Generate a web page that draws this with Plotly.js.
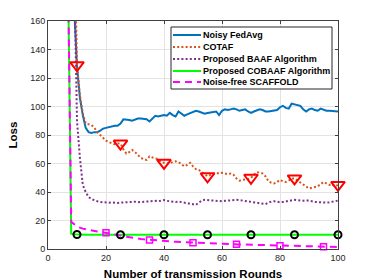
<!DOCTYPE html>
<html>
<head>
<meta charset="utf-8">
<script src="https://cdn.plot.ly/plotly-3.0.1.min.js"></script>
<style>html,body{margin:0;padding:0;background:#fff;}#chart{width:374px;height:280px;}</style>
</head>
<body>
<div id="chart"></div>
<script>
const rounds = [1,2,3,4,5,6,7,8,9,10,11,12,13,14,15,16,17,18,19,20,21,22,23,24,25,26,27,28,29,30,31,32,33,34,35,36,37,38,39,40,41,42,43,44,45,46,47,48,49,50,51,52,53,54,55,56,57,58,59,60,61,62,63,64,65,66,67,68,69,70,71,72,73,74,75,76,77,78,79,80,81,82,83,84,85,86,87,88,89,90,91,92,93,94,95,96,97,98,99,100];

const noisyFedAvg = [3000,2200,1500,1000,700,480,340,260,170,128,
106,94,85,82,81.5,82,82,83,84.5,85,
85.5,86.5,86.5,86.5,88,91,91,90.5,90,91,
91.5,91.5,91.5,91,89.5,91.5,93.5,93,93.5,94,
93.5,95.5,94,93,96.5,95,93.5,94.5,95.5,96.5,
97,96.5,95.5,95,95.5,96,96,96.5,94,97,
98,97.5,98,98.5,98,97,97.5,98,96.5,95.5,
96.5,97.5,98,97.5,96.5,96.5,97,97,97.5,99.5,
100.5,99,98.5,102,101.5,101,100.5,98,96.5,98,
98.5,97.5,97,98.5,97.5,97,97,97,96.8,96.5];

const cotaf = [3500,2600,1800,1200,850,600,420,300,232,129,
108,95,88,87.5,87,85,82,80,78,76,
75,74,73.5,74,74,70,67,68,69.5,68,
66,64,63,62.5,65,64,63.5,63,61,60.5,
60,60,61,61.5,61,59.5,58,59,60.5,58,
56,55.5,54,52,51,52,53,53.5,53,53.5,
53,52.5,53,52,49.5,48,48.5,48.5,49,50,
52,54,53.5,53,51,47.5,46.5,46,47,48.5,
47.5,47,48,49.5,49.5,48,47,45.5,44,42.5,
43,43.5,44,45.5,47,46,45,45.5,44,45];

const baaf = [4000,3000,2000,1400,1000,750,600,500,200,90,
64,45,40,36.5,35,34,33.5,33,32.8,32.5,
32.5,32.8,32.5,32.3,32.6,32.8,32.5,32.8,33,33.2,
32.8,33,33.3,33.5,33.2,33.5,33.8,33.5,34,34.3,
33.8,33.5,33.2,33,33.3,33,32.5,32.2,32,31.5,
31,32.5,34,34.5,34.3,34,33.8,33.5,33.3,33.5,
33.8,34,34.3,34.3,34.5,34.3,34,33.8,33.5,33.3,
33,32.8,32.5,32,31.5,32.5,33.3,33.5,33,32.8,
33,33.5,34,34.5,34.5,34.2,34,33.8,34.2,34,
33.5,33,32.8,32.8,32.5,32.5,32.8,33,33.5,34];

const cobaaf = [5000,3500,2400,1600,1000,600,178,10.8,10.4,10.2,
10.1,10.1,10,10,10,10,10,10,10,10,
10,10,10,10,10,10,10,10,10,10,
10,10,10,10,10,10,10,10,10,10,
10,10,10,10,10,10,10,10,10,10,
10,10,10,10,10,10,10,10,10,10,
10,10,10,10,10,10,10,10,10,10,
10,10,10,10,10,10,10,10,10,10,
10,10,10,10,10,10,10,10,10,10,
10,10,10,10,10,10,10,10,10,10];

const scaffold = [5000,3500,2400,1600,1000,600,178,19,17.5,16,
15,14.3,13.8,13.3,13,12.6,12.3,12,11.7,11.4,
11,10.6,10.2,9.8,9.4,9,8.6,8.2,7.9,7.6,
7.3,7,6.8,6.6,6.4,6.2,6,5.8,5.6,5.5,
5.4,5.3,5.2,5.1,5,4.9,4.8,4.6,4.5,4.4,
4.3,4.2,4.1,4,3.9,3.85,3.8,3.7,3.65,3.6,
3.5,3.45,3.4,3.35,3.3,3.2,3.15,3.1,3,2.95,
2.9,2.8,2.75,2.7,2.6,2.55,2.5,2.4,2.35,2.3,
2.25,2.2,2.15,2.1,2.05,2,1.95,1.9,1.85,1.8,
1.75,1.7,1.65,1.62,1.6,1.55,1.5,1.48,1.45,1.4];

const markerRoundsA = [10,25,40,55,70,85,100];
const markerRoundsB = [20,35,50,65,80,95];

const seriesNames = ['Noisy FedAvg','COTAF','Proposed BAAF Algorithm','Proposed COBAAF Algorithm','Noise-free SCAFFOLD'];
const xTicks = [0,20,40,60,80,100];
const yTicks = [0,20,40,60,80,100,120,140,160];

const colors = ['#0072BD','#D95319','#7E2F8E','#00FF00','#FF00FF'];
const dashes = ['solid','2px,2.2px','2px,2.2px','solid','7px,5px'];
const widths = [2,2,2,2,2];
const seriesData = [noisyFedAvg, cotaf, baaf, cobaaf, scaffold];

const traces = seriesData.map((ys, i) => ({
  x: rounds, y: ys, type: 'scatter', mode: 'lines', name: seriesNames[i],
  line: {color: colors[i], width: widths[i], dash: dashes[i]}, showlegend: false
}));

const pick = (arr, rs) => rs.map(r => arr[rounds.indexOf(r)]);

traces.push({
  x: markerRoundsA, y: pick(cotaf, markerRoundsA), type: 'scatter', mode: 'markers', showlegend: false, cliponaxis: false,
  marker: {symbol: 'triangle-down-open', size: 12, color: '#FF0000', line: {width: 2, color: '#FF0000'}}
});
traces.push({
  x: markerRoundsA, y: pick(cobaaf, markerRoundsA), type: 'scatter', mode: 'markers', showlegend: false, cliponaxis: false,
  marker: {symbol: 'circle-open', size: 7, color: '#000000', line: {width: 2, color: '#000000'}}
});
traces.push({
  x: markerRoundsB, y: pick(scaffold, markerRoundsB), type: 'scatter', mode: 'markers', showlegend: false, cliponaxis: false,
  marker: {symbol: 'square-open', size: 6, color: '#FF00FF', line: {width: 1.5, color: '#FF00FF'}}
});

// custom legend (pixel geometry -> paper coordinates)
const L = 48, R = 338, T = 21, B = 249;
const px = v => (v - L) / (R - L);
const py = v => (B - v) / (B - T);
const rowY = [35, 47, 59, 71, 82];
const shapes = [{
  type: 'rect', xref: 'paper', yref: 'paper', x0: px(171), x1: px(332), y0: py(27), y1: py(89),
  fillcolor: '#ffffff', line: {color: '#262626', width: 1}, layer: 'above'
}];
const annotations = [];
seriesNames.forEach((n, i) => {
  shapes.push({type: 'line', xref: 'paper', yref: 'paper', x0: px(173), x1: px(201), y0: py(rowY[i]), y1: py(rowY[i]),
    line: {color: colors[i], width: 2, dash: dashes[i]}, layer: 'above'});
  annotations.push({xref: 'paper', yref: 'paper', x: px(201), y: py(rowY[i]), xanchor: 'left', yanchor: 'middle',
    text: n, showarrow: false, font: {family: 'Liberation Sans', size: 9, color: '#000', weight: 'bold'}});
});

const axisCommon = {
  showline: true, linecolor: '#404040', linewidth: 1, mirror: 'ticks', ticks: 'inside', ticklen: 3,
  tickcolor: '#404040', showgrid: true, gridcolor: '#e3e3e3', gridwidth: 1, zeroline: false,
  tickfont: {family: 'Liberation Sans', size: 9, color: '#262626'}, automargin: false
};

const layout = {
  width: 374, height: 280,
  margin: {l: L, r: 374 - R, t: T, b: 280 - B, pad: 0},
  paper_bgcolor: '#ffffff', plot_bgcolor: '#ffffff',
  showlegend: false,
  xaxis: Object.assign({}, axisCommon, {range: [0, 100], tickvals: xTicks,
    title: {text: 'Number of transmission Rounds', font: {family: 'Liberation Sans', size: 11.5, color: '#000', weight: 'bold'}, standoff: 8}}),
  yaxis: Object.assign({}, axisCommon, {range: [0, 160], tickvals: yTicks,
    title: {text: 'Loss', font: {family: 'Liberation Sans', size: 11.5, color: '#000', weight: 'bold'}, standoff: 10}}),
  shapes: shapes,
  annotations: annotations
};

Plotly.newPlot('chart', traces, layout, {staticPlot: true, displayModeBar: false});
</script>
</body>
</html>
